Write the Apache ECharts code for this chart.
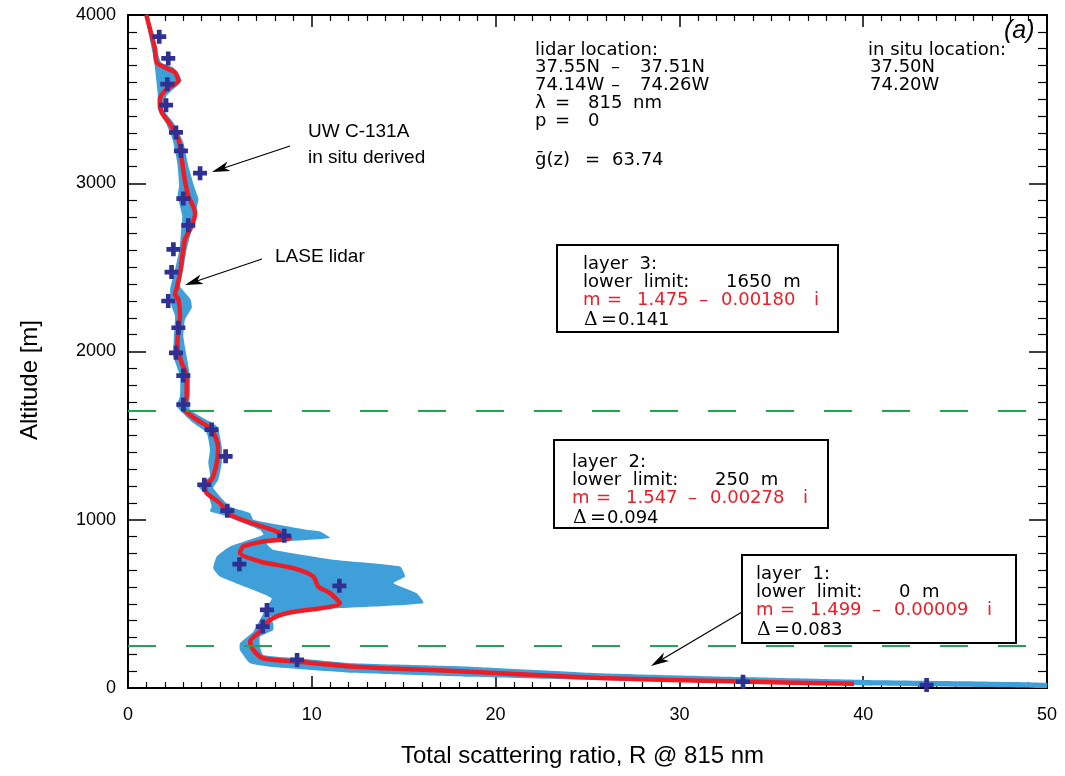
<!DOCTYPE html>
<html><head><meta charset="utf-8">
<script src="https://cdn.jsdelivr.net/npm/echarts@6/dist/echarts.min.js"></script>
<style>html,body{margin:0;padding:0;background:#fff}#c{width:1065px;height:776px}</style>
</head><body><div id="c"></div>
<script>
// ---- data ----
const xTicks = [0, 10, 20, 30, 40, 50];
const yTicks = [0, 1000, 2000, 3000, 4000];
const layerLimits = [250, 1650];
// LASE lidar retrieval: [scattering ratio, altitude m]
const lidarProfile = [[39.5,25],[33.4,38],[25.7,60],[18.6,97],[12.3,127],[9.2,157],[7.36,177],[6.82,226],[6.64,276],[7.18,335],[7.73,405],[8.63,444],[11.53,504],[10.99,564],[10.35,603],[10.08,663],[9.0,712],[7.18,752],[6.09,802],[6.27,841],[7.36,871],[8.81,891],[8.09,930],[6.46,990],[5.55,1030],[5.0,1099],[4.28,1159],[4.19,1208],[4.55,1238],[4.83,1337],[4.9,1430],[4.55,1536],[3.74,1595],[3.01,1665],[3.19,1734],[3.19,1853],[2.92,1933],[2.68,2032],[2.74,2131],[2.83,2210],[2.74,2310],[2.56,2339],[2.68,2389],[2.83,2468],[3.01,2607],[3.1,2667],[3.47,2746],[3.65,2825],[3.28,2925],[3.1,3014],[2.92,3143],[2.74,3262],[2.29,3351],[1.83,3421],[1.74,3500],[2.1,3560],[2.74,3609],[2.56,3659],[2.01,3688],[1.56,3718],[1.47,3798],[1.29,3877],[1.1,3956],[1.0,4000]];
// uncertainty band, upper-x edge (ascending altitude)
const bandRight = [[50,0],[50,31],[40,48],[33.4,65],[25.7,88],[18.6,127],[12.26,147],[9.2,177],[7.36,196],[7.18,246],[7.18,305],[7.9,345],[7.9,385],[7.73,424],[10.45,468],[16.07,504],[15.7,564],[14.44,623],[15.07,663],[14.8,722],[11.17,762],[7.9,821],[7.55,861],[10.99,891],[10.45,930],[9.72,940],[6.82,1000],[6.64,1040],[5.55,1079],[4.64,1189],[4.91,1238],[5.1,1337],[5.1,1436],[4.83,1555],[3.37,1655],[3.37,1754],[3.37,1853],[3.19,1972],[3.01,2091],[3.1,2190],[3.47,2260],[3.4,2310],[2.83,2389],[3.01,2488],[3.19,2607],[3.47,2726],[3.83,2905],[3.65,2964],[3.28,3103],[3.01,3242],[2.47,3361],[1.92,3440],[2.1,3520],[2.92,3609],[2.47,3688],[1.8,3718],[1.56,3798],[1.4,3877],[1.2,3956],[1.1,4000]];
// uncertainty band, lower-x edge (descending altitude)
const bandLeft = [[0.95,4000],[1.15,3877],[1.33,3778],[1.45,3700],[1.62,3530],[1.62,3441],[2.05,3361],[2.42,3262],[2.68,3123],[2.78,2984],[2.7,2925],[2.95,2805],[2.88,2706],[2.8,2607],[2.52,2468],[2.29,2369],[2.37,2270],[2.56,2210],[2.5,2091],[2.47,1972],[2.83,1853],[2.83,1734],[2.65,1675],[3.56,1575],[4.28,1516],[4.46,1417],[4.37,1337],[4.46,1258],[3.83,1198],[4.37,1139],[4.55,1079],[4.46,1050],[5.37,1020],[7.18,940],[7.36,911],[5.55,841],[4.83,782],[4.64,712],[5.0,663],[6.82,583],[7.82,534],[7.55,484],[7.18,405],[6.82,335],[6.09,266],[6.09,226],[6.64,147],[7.73,127],[12.26,91],[18.6,67],[30,35],[40,15],[50,0]];
// UW C-131A in situ derived: [scattering ratio, altitude m]
const inSitu = [[43.45,18],[33.46,37],[9.2,167],[7.33,365],[7.56,464],[11.5,607],[6.06,736],[8.5,905],[5.4,1054],[4.15,1208],[5.31,1377],[4.55,1536],[3.01,1685],[3.01,1857],[2.61,1992],[2.74,2141],[2.19,2300],[2.37,2472],[2.47,2607],[3.28,2750],[3.01,2909],[3.92,3060],[2.88,3192],[2.61,3302],[2.07,3464],[2.14,3589],[2.19,3742],[1.70,3871]];
// layer boxes text
const layerNames = ['layer  1:', 'layer  2:', 'layer  3:'];
const layerLower = ['0  m', '250  m', '1650  m'];
const layerReal = ['1.499', '1.547', '1.475'];
const layerImag = ['0.00009', '0.00278', '0.00180'];
const layerDelta = ['0.083', '0.094', '0.141'];

const chart = echarts.init(document.getElementById('c'));
const G = {left:128, top:15, width:919, height:673};
const AX = {lineStyle:{color:'#000', width:2}};
const labFont = {fontFamily:'Liberation Sans', fontSize:18, color:'#000'};
const boxFont = '18px "DejaVu Sans"';
const RED = '#ee1c25';

function arrow(x1,y1,x2,y2){
  const a = Math.atan2(y2-y1, x2-x1), L = 18, W = 5;
  const bx = x2 - L*Math.cos(a), by = y2 - L*Math.sin(a);
  const px = -Math.sin(a)*W, py = Math.cos(a)*W;
  return [
    {type:'line', shape:{x1:x1,y1:y1,x2:bx+(x2-bx)*0.3,y2:by+(y2-by)*0.3}, style:{stroke:'#000', lineWidth:1.2}, z:50},
    {type:'polygon', shape:{points:[[x2,y2],[bx+px,by+py],[bx+5*Math.cos(a),by+5*Math.sin(a)],[bx-px,by-py]]}, style:{fill:'#000'}, z:50}
  ];
}
function txt(x,y,t,color,font){
  return {type:'text', x:x, y:y, z:60, style:{text:t, fill:color||'#000', font:font||boxFont, textVerticalAlign:'middle'}};
}
function box(x,y,w,h){
  return {type:'rect', shape:{x:x,y:y,width:w,height:h}, style:{fill:'#fff', stroke:'#000', lineWidth:2}, z:55};
}
function layerBox(i, bx, by, bw, bh, tx, ty){
  return [
    box(bx,by,bw,bh),
    txt(tx,ty,layerNames[i]),
    txt(tx,ty+18,'lower  limit:'),
    txt(tx+143,ty+18,layerLower[i]),
    txt(tx,ty+36,'m',RED),
    txt(tx+24,ty+36,'=',RED),
    txt(tx+54,ty+36,layerReal[i],RED),
    txt(tx+116,ty+36,'\u2013',RED),
    txt(tx+138,ty+36,layerImag[i],RED),
    txt(tx+231,ty+36,'i',RED),
    txt(tx+1,ty+56,'\u0394','#000','19px "DejaVu Serif"'),
    txt(tx+18,ty+56,'=','#000','19px "DejaVu Sans"'),
    txt(tx+35,ty+56,layerDelta[i])
  ];
}

const hf = '18px "DejaVu Sans"';
const graphics = [].concat(
  arrow(290,146,212,172),
  arrow(262,259,185,285),
  arrow(742,612,651,666),
  [
    {type:'text', x:30, y:380, rotation:Math.PI/2, z:60,
      style:{text:'Altitude [m]', fill:'#000', font:'24px "Liberation Sans"', textAlign:'center', textVerticalAlign:'middle'}},
    txt(308,132,'UW C-131A','#000','19px "Liberation Sans"'),
    txt(308,158,'in situ derived','#000','19px "Liberation Sans"'),
    txt(275,257,'LASE lidar','#000','19px "Liberation Sans"'),
    txt(1004,31,'(a)','#000','italic 25px "Liberation Sans"'),
    txt(535,50,'lidar location:','#000',hf),
    txt(535,67,'37.55N','#000',hf), txt(611,67,'\u2013','#000',hf), txt(640,67,'37.51N','#000',hf),
    txt(535,85,'74.14W','#000',hf), txt(611,85,'\u2013','#000',hf), txt(640,85,'74.26W','#000',hf),
    txt(535,103,'\u03bb','#000',hf), txt(555,103,'=','#000',hf), txt(588,103,'815','#000',hf), txt(633,103,'nm','#000',hf),
    txt(535,121,'p','#000',hf), txt(555,121,'=','#000',hf), txt(588,121,'0','#000',hf),
    txt(535,160,'\u1e21(z)','#000',hf), txt(585,160,'=','#000',hf), txt(612,160,'63.74','#000',hf),
    txt(868,50,'in situ location:','#000',hf),
    txt(870,67,'37.50N','#000',hf),
    txt(870,85,'74.20W','#000',hf)
  ],
  layerBox(2, 557,245,281,87, 583,264),
  layerBox(1, 554,440,274,88, 572,462),
  layerBox(0, 742,555,274,88, 756,574)
);

function xAxisCfg(pos, show){
  return {type:'value', min:0, max:50, interval:10, position:pos,
    axisLine:{show:true, onZero:false, ...AX},
    axisTick:{show:true, inside:true, length:12, lineStyle:{color:'#000', width:1.5}},
    minorTick:{show:true, splitNumber:10, length:6, lineStyle:{color:'#000', width:1.2}},
    splitLine:{show:false},
    axisLabel:{show:show, margin:18, ...labFont, formatter:v=>String(v)},
    name: show ? 'Total scattering ratio, R @ 815 nm' : '',
    nameLocation:'middle', nameGap:56,
    nameTextStyle:{fontFamily:'Liberation Sans', fontSize:24, color:'#000', padding:[0,10,0,0]}
  };
}
function yAxisCfg(pos, show){
  return {type:'value', min:0, max:4000, interval:1000, position:pos,
    axisLine:{show:true, onZero:false, ...AX},
    axisTick:{show:true, inside:true, length:18, lineStyle:{color:'#000', width:1.5}},
    minorTick:{show:true, splitNumber:10, length:9, lineStyle:{color:'#000', width:1.2}},
    splitLine:{show:false},
    axisLabel:{show:show, margin:12, ...labFont, formatter:v=>String(v)}
  };
}

chart.setOption({
  animation:false,
  backgroundColor:'#fff',
  grid:G,
  xAxis:[xAxisCfg('bottom',true), xAxisCfg('top',false)],
  yAxis:[yAxisCfg('left',true), yAxisCfg('right',false)],
  graphic:graphics,
  series:[
    {type:'custom', xAxisIndex:0, yAxisIndex:0, z:1, data:[[0,0]], silent:true,
      renderItem:function(params, api){
        const pts = bandRight.map(p=>api.coord(p)).concat(bandLeft.map(p=>api.coord(p)));
        return {type:'polygon', shape:{points:pts, smooth:0.15}, style:{fill:'#3f9fd8'}};
      }},
    {type:'line', data:[], z:2, silent:true,
      markLine:{silent:true, symbol:['none','none'], label:{show:false},
        lineStyle:{color:'#1ba650', width:2.2, type:[28,30]},
        data: layerLimits.map(v=>({yAxis:v}))}},
    {type:'line', data:lidarProfile, z:3, smooth:0.25, showSymbol:false, silent:true,
      lineStyle:{color:RED, width:4.5}},
    {type:'scatter', data:inSitu, z:4, silent:true,
      symbol:'path://M4,0H8V4H12V8H8V12H4V8H0V4H4Z', symbolSize:14,
      itemStyle:{color:'#2e3192', opacity:1}}
  ]
});
</script></body></html>
